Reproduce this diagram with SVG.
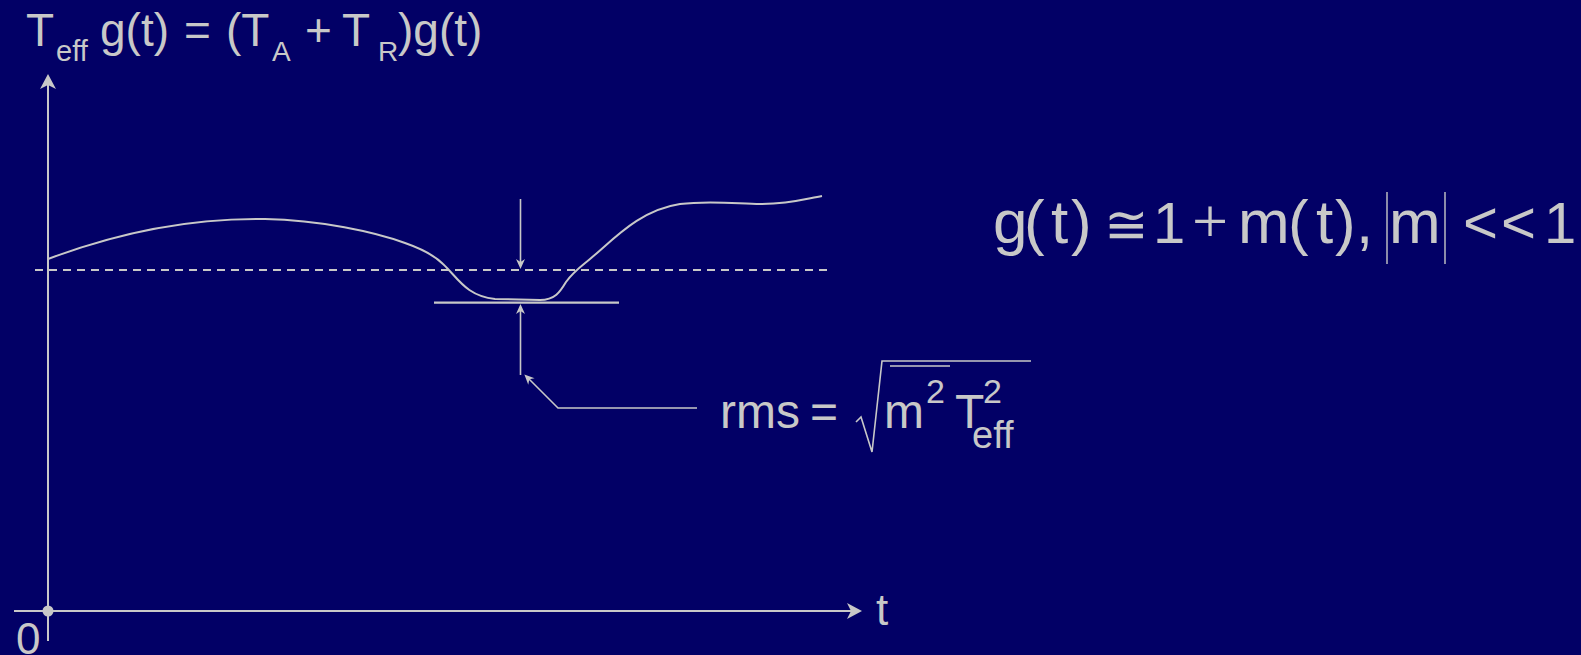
<svg xmlns="http://www.w3.org/2000/svg" width="1581" height="655" viewBox="0 0 1581 655">
<style>
.t{font-family:"Liberation Sans",Arial,"DejaVu Sans",sans-serif;fill:#C8C8C8}
.ln{stroke:#C8C8C8;fill:none}
</style>
<defs>
<marker id="big" viewBox="-16 -9 17 18" refX="-6" refY="0" markerWidth="17" markerHeight="18" markerUnits="userSpaceOnUse" orient="auto"><path d="M0,0 L-15,-8 L-11,0 L-15,8Z" fill="#C8C8C8"/></marker>
<marker id="sm" viewBox="-11 -5 12 10" refX="-3" refY="0" markerWidth="12" markerHeight="10" markerUnits="userSpaceOnUse" orient="auto"><path d="M0,0 L-10,-4.5 L-7,0 L-10,4.5Z" fill="#C8C8C8"/></marker>
</defs>
<rect width="1581" height="655" fill="#020066"/>
<g id="axes">
<line class="ln" x1="48" y1="641" x2="48" y2="80" stroke-width="2" marker-end="url(#big)"/>
<line class="ln" x1="14" y1="611" x2="856" y2="611" stroke-width="2" marker-end="url(#big)"/>
<circle cx="48" cy="611" r="5.5" fill="#C8C8C8"/>
<text class="t" x="16" y="654" font-size="44">0</text>
<text class="t" x="876" y="625" font-size="44">t</text>
</g>
<g id="title">
<text class="t" y="46" font-size="46"><tspan x="26">T</tspan><tspan x="56" y="61" font-size="29">eff</tspan><tspan x="100" y="46">g(t)</tspan><tspan x="184">=</tspan><tspan x="226">(T</tspan><tspan x="272" y="61" font-size="28">A</tspan><tspan x="305" y="46">+</tspan><tspan x="342">T</tspan><tspan x="378" y="61" font-size="28">R</tspan><tspan x="398" y="46">)g(t)</tspan></text>
</g>
<g id="mean-line">
<line class="ln" x1="35" y1="270" x2="828" y2="270" stroke-width="2.2" stroke-dasharray="8 6"/>
</g>
<g id="signal">
<path class="ln" stroke-width="2" d="M48,259 C130,228 200,218 265,219 C320,220 375,232 405,243 C425,250 436,257 443,264 C458,278 466,296 495,299 L540,300 C555,300 560,292 566,282 C573,272 579,268 590,259 C615,238 640,210 680,204 C710,200 740,204 760,204 C790,204 805,199 822,196"/>
</g>
<g id="min-line">
<line class="ln" x1="434" y1="302.7" x2="619" y2="302.7" stroke-width="2.2"/>
</g>
<g id="connectors">
<line class="ln" x1="520.5" y1="199" x2="520.5" y2="266" stroke-width="1.6" marker-end="url(#sm)"/>
<line class="ln" x1="520.5" y1="375" x2="520.5" y2="307" stroke-width="1.6" marker-end="url(#sm)"/>
<polyline class="ln" points="697,408 558,408 526.5,376.5" stroke-width="1.6" marker-end="url(#sm)"/>
</g>
<g id="rms-label">
<text class="t" y="428" font-size="48"><tspan x="720">rms</tspan><tspan x="810">=</tspan><tspan x="884">m</tspan><tspan x="926" y="403" font-size="34">2</tspan><tspan x="955" y="428">T</tspan><tspan x="983" y="403" font-size="34">2</tspan><tspan x="972" y="448" font-size="38">eff</tspan></text>
<path class="ln" stroke-width="1.6" d="M856,422 L861,417 L872,452 L882,361 L1031,361"/>
<line class="ln" x1="890" y1="366" x2="950" y2="366" stroke-width="1.6"/>
</g>
<g id="condition">
<text class="t" y="243" font-size="62"><tspan x="993">g</tspan><tspan x="1024">(</tspan><tspan x="1051">t</tspan><tspan x="1071">)</tspan><tspan x="1104" font-size="53" font-family="DejaVu Sans">≅</tspan><tspan x="1153" font-size="58">1</tspan><tspan x="1192" font-family="Liberation Serif" font-size="64">+</tspan><tspan x="1238">m</tspan><tspan x="1288">(</tspan><tspan x="1316">t</tspan><tspan x="1335">)</tspan><tspan x="1356">,</tspan><tspan x="1389">m</tspan><tspan x="1463" font-size="60">&lt;</tspan><tspan x="1501" font-size="60">&lt;</tspan><tspan x="1544" font-size="58">1</tspan></text>
<line class="ln" x1="1387" y1="192" x2="1387" y2="264" stroke-width="1.4"/>
<line class="ln" x1="1445" y1="192" x2="1445" y2="264" stroke-width="1.4"/>
</g>
</svg>
